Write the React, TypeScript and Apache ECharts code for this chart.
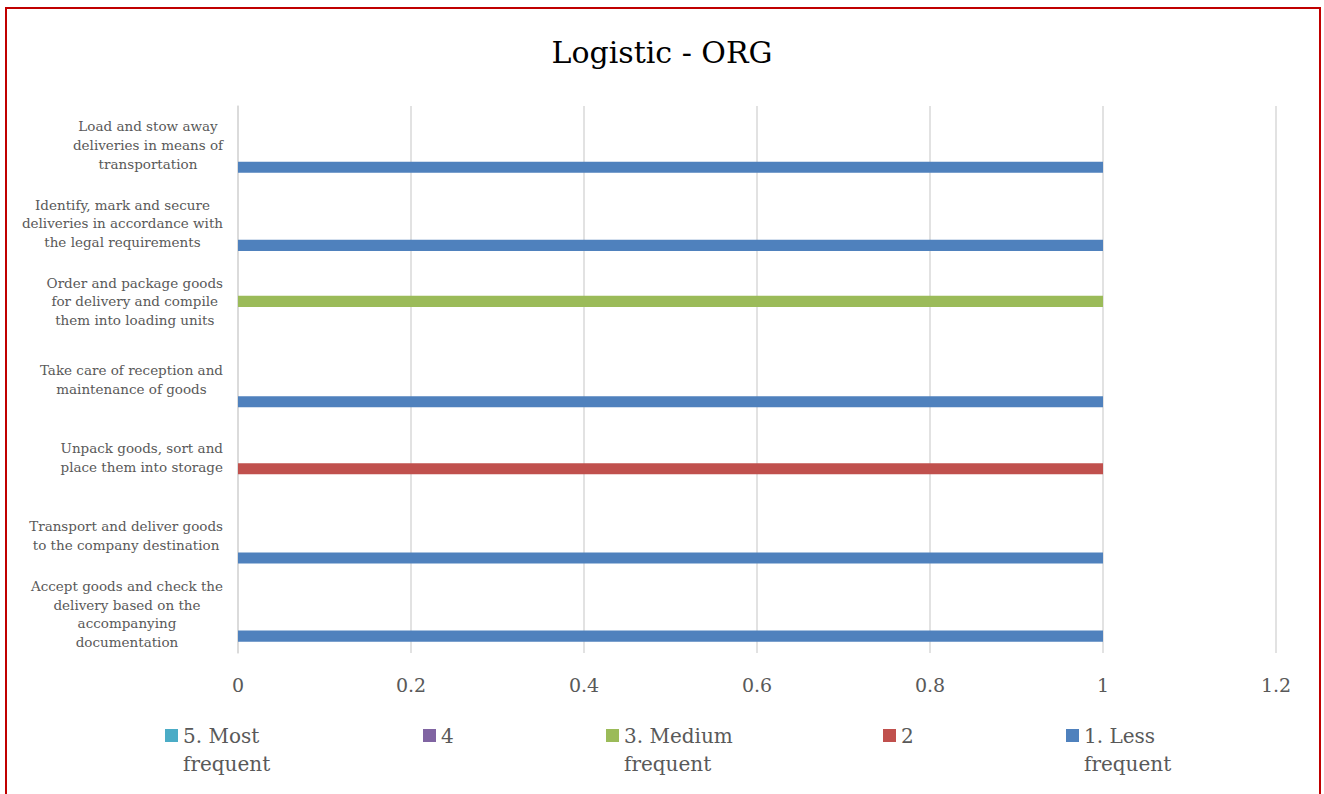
import React, { useEffect, useRef } from "react";
import * as echarts from "echarts";

// Categories from bottom to top of the value axis
const categories: string[] = [
  "Accept goods and check the\ndelivery based on the\naccompanying\ndocumentation",
  "Transport and deliver goods\nto the company destination",
  "Unpack goods, sort and\nplace them into storage",
  "Take care of reception and\nmaintenance of goods",
  "Order and package goods\nfor delivery and compile\nthem into loading units",
  "Identify, mark and secure\ndeliveries in accordance with\nthe legal requirements",
  "Load and stow away\ndeliveries in means of\ntransportation",
];

const seriesNames: string[] = [
  "5. Most frequent",
  "4",
  "3. Medium frequent",
  "2",
  "1. Less frequent",
];
const legendLabels: string[] = [
  "5. Most\nfrequent",
  "4",
  "3. Medium\nfrequent",
  "2",
  "1. Less\nfrequent",
];

const mostFrequent: number[] = [0, 0, 0, 0, 0, 0, 0];
const level4: number[] = [0, 0, 0, 0, 0, 0, 0];
const mediumFrequent: number[] = [0, 0, 0, 0, 1, 0, 0];
const level2: number[] = [0, 0, 1, 0, 0, 0, 0];
const lessFrequent: number[] = [1, 1, 0, 1, 0, 1, 1];

const seriesValues: number[][] = [mostFrequent, level4, mediumFrequent, level2, lessFrequent];
const seriesColors: string[] = ["#4BACC6", "#8064A2", "#9BBB59", "#C0504D", "#4F81BD"];

const xTicks = { min: 0, max: 1.2, interval: 0.2 };

const FONT = "DejaVu Serif";
const GREY = "#595959";

export default function App() {
  const ref = useRef<HTMLDivElement>(null);

  useEffect(() => {
    document.body.style.margin = "0";
    if (!ref.current) return;
    const chart = echarts.init(ref.current, null, { renderer: "svg" });

    const legendLefts = [165, 423, 606, 883, 1066];
    const legends = seriesNames.map((name, i) => {
      const twoLine = legendLabels[i].includes("\n");
      return {
        show: true,
        data: [name],
        left: legendLefts[i],
        top: twoLine ? 693.5 : 721.5,
        padding: 0,
        itemWidth: 13,
        itemHeight: 13,
        icon: "rect",
        selectedMode: false,
        // a blank first line keeps the label's first line level with the marker
        formatter: () => (twoLine ? "\u00A0\n" + legendLabels[i] : legendLabels[i]),
        textStyle: {
          fontFamily: FONT,
          fontSize: 20,
          lineHeight: 28,
          color: GREY,
        },
      };
    });

    chart.setOption({
      animation: false,
      title: {
        text: "Logistic - ORG",
        left: "center",
        top: 34,
        padding: 0,
        textStyle: {
          fontFamily: FONT,
          fontSize: 30,
          fontWeight: "normal",
          color: "#000000",
          lineHeight: 36,
        },
      },
      graphic: [
        {
          type: "rect",
          shape: { x: 6, y: 8, width: 1314, height: 800 },
          style: { fill: "none", stroke: "#C00000", lineWidth: 2 },
          silent: true,
          z: 100,
        },
      ],
      legend: legends,
      grid: { left: 238, right: 48, top: 106, bottom: 141, containLabel: false },
      xAxis: {
        type: "value",
        min: xTicks.min,
        max: xTicks.max,
        interval: xTicks.interval,
        axisLine: { show: false },
        axisTick: { show: false },
        splitLine: { show: true, lineStyle: { color: "#D9D9D9", width: 1.5 } },
        axisLabel: {
          margin: 22,
          fontFamily: FONT,
          fontSize: 19,
          color: GREY,
          formatter: (v: number) => String(Math.round(v * 10) / 10),
        },
      },
      yAxis: {
        type: "category",
        data: categories,
        axisLine: { show: true, lineStyle: { color: "#D9D9D9", width: 1.5 } },
        axisTick: { show: false },
        splitLine: { show: false },
        axisLabel: {
          margin: 15,
          interval: 0,
          formatter: (v: string) =>
            v
              .split("\n")
              .map((l) => `{c|${l}}`)
              .join("\n"),
          rich: {
            c: {
              align: "center",
              fontFamily: FONT,
              fontSize: 13.5,
              lineHeight: 18.7,
              color: GREY,
            },
          },
        },
      },
      series: seriesNames.map((name, i) => ({
        name,
        type: "bar",
        data: seriesValues[i],
        itemStyle: { color: seriesColors[i] },
        barGap: "0%",
        barCategoryGap: "29%",
      })),
    });

    return () => chart.dispose();
  }, []);

  return <div ref={ref} style={{ width: 1324, height: 794 }} />;
}
